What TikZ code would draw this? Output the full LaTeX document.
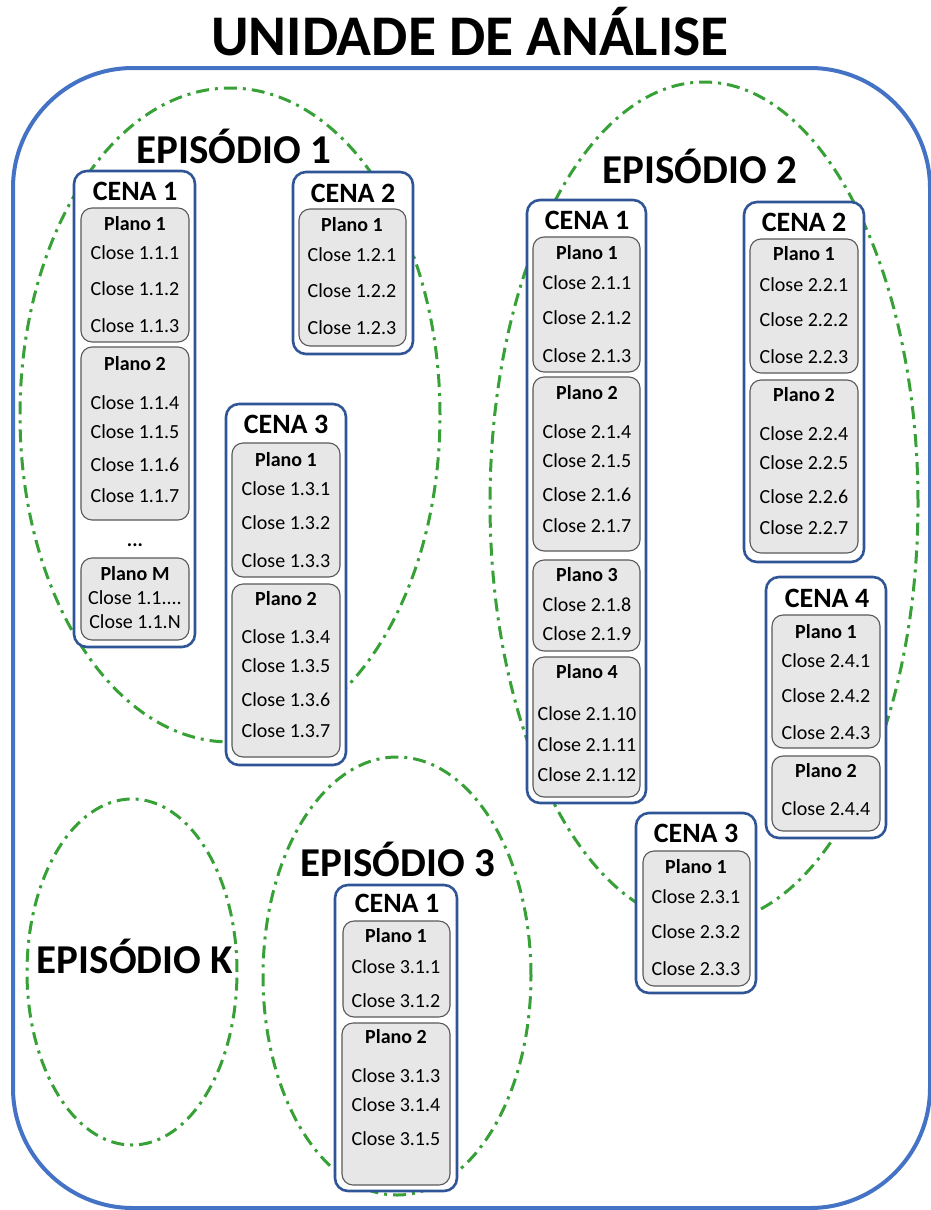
\documentclass[tikz,border=0pt]{standalone}
\usepackage{fontspec}
\setmainfont{Carlito}
\usetikzlibrary{shapes.geometric}
\definecolor{outerblue}{HTML}{4472C4}
\definecolor{cenablue}{HTML}{2F5597}
\definecolor{planofill}{HTML}{E7E7E7}
\definecolor{planoline}{HTML}{595959}
\definecolor{epgreen}{HTML}{37A037}
\tikzset{
  outerbox/.style={draw=outerblue, line width=4pt, rounded corners=120pt, inner sep=0pt, outer sep=0pt},
  cenabox/.style={draw=cenablue, line width=2.6pt, rounded corners=13pt, fill=white, inner sep=0pt, outer sep=0pt},
  planobox/.style={draw=planoline, line width=1.1pt, fill=planofill, rounded corners=11pt, inner sep=0pt, outer sep=0pt},
  epiell/.style={ellipse, draw=epgreen, line width=3pt, dash pattern=on 13pt off 6pt on 3pt off 6pt, inner sep=0pt, outer sep=0pt},
  closetxt/.style={font=\fontsize{20}{24}\selectfont, inner sep=0pt, anchor=base},
  planotxt/.style={font=\fontsize{20}{24}\selectfont\bfseries, inner sep=0pt, anchor=base},
  cenatxt/.style={font=\fontsize{28}{32}\selectfont\bfseries, inner sep=0pt, anchor=base},
  epitxt/.style={font=\fontsize{41}{46}\selectfont\bfseries, inner sep=0pt, anchor=base},
  titletxt/.style={font=\fontsize{57.5}{62}\selectfont\bfseries, inner sep=0pt, anchor=base}
}
% box from (x1,y1) to (x2,y2) in pixel coordinates
\newcommand\mkbox[6]{\node[#2, minimum width={(#5-#3)*1pt}, minimum height={(#6-#4)*1pt}] (#1) at ({(#3+#5)/2},{(#4+#6)/2}) {};}
% text centred at x with visual centre y; offset gives the baseline
\newcommand\mkclose[4]{\node[closetxt] (#1) at (#2,{#3+6.5}) {#4};}
\newcommand\mkplano[4]{\node[planotxt] (#1) at (#2,{#3+6.5}) {#4};}
\newcommand\mkcena[4]{\node[cenatxt] (#1) at (#2,{#3+9}) {#4};}
\newcommand\mkell[5]{\node[epiell, minimum width={2*#4*1pt}, minimum height={2*#5*1pt}] (#1) at (#2,#3) {};}
\begin{document}
\begin{tikzpicture}[x=1pt,y=-1pt]
\useasboundingbox (0,0) rectangle (931,1210);
\begin{scope}
\clip (0,0) rectangle (931,1210);
\mkbox{outer}{outerbox}{13}{68}{930}{1208}
\end{scope}
\node[titletxt] (title) at (470,55) {UNIDADE DE ANÁLISE};

% ellipses
\mkell{ep1}{230}{415}{210}{327}
\mkell{ep2}{704}{503}{214}{421}
\mkell{ep3}{397}{976}{134}{219}
\mkell{epk}{132}{972}{105}{173}

\node[epitxt] (ep1t) at (234,163) {EPISÓDIO 1};
\node[epitxt] (ep2t) at (700,183) {EPISÓDIO 2};
\node[epitxt] (ep3t) at (398,876) {EPISÓDIO 3};
\node[epitxt] (epkt) at (135,973) {EPISÓDIO K};

% ===== Episode 1 =====
% Cena 1
\mkbox{c11}{cenabox}{74}{171}{195}{647}
\mkcena{c11t}{135}{191}{CENA 1}
\mkbox{p111}{planobox}{81}{208}{189}{342}
\mkplano{p111t}{135}{224}{Plano 1}
\mkclose{k111}{135}{253}{Close 1.1.1}
\mkclose{k112}{135}{289}{Close 1.1.2}
\mkclose{k113}{135}{326}{Close 1.1.3}
\mkbox{p112}{planobox}{81}{347}{189}{520}
\mkplano{p112t}{135}{364}{Plano 2}
\mkclose{k114}{135}{403}{Close 1.1.4}
\mkclose{k115}{135}{432}{Close 1.1.5}
\mkclose{k116}{135}{465}{Close 1.1.6}
\mkclose{k117}{135}{496}{Close 1.1.7}
\mkplano{dots}{135}{540}{...}
\mkbox{p11m}{planobox}{81}{558}{189}{640}
\mkplano{p11mt}{135}{574}{Plano M}
\mkclose{k11x}{135}{598}{Close 1.1....}
\mkclose{k11n}{135}{622}{Close 1.1.N}
% Cena 2
\mkbox{c12}{cenabox}{293}{172}{413}{354}
\mkcena{c12t}{353}{193}{CENA 2}
\mkbox{p121}{planobox}{299}{209}{406}{346}
\mkplano{p121t}{352}{225}{Plano 1}
\mkclose{k121}{352}{255}{Close 1.2.1}
\mkclose{k122}{352}{291}{Close 1.2.2}
\mkclose{k123}{352}{328}{Close 1.2.3}
% Cena 3
\mkbox{c13}{cenabox}{226}{404}{346}{765}
\mkcena{c13t}{286}{424}{CENA 3}
\mkbox{p131}{planobox}{232}{443}{340}{577}
\mkplano{p131t}{286}{460}{Plano 1}
\mkclose{k131}{286}{489}{Close 1.3.1}
\mkclose{k132}{286}{523}{Close 1.3.2}
\mkclose{k133}{286}{561}{Close 1.3.3}
\mkbox{p132}{planobox}{232}{584}{340}{757}
\mkplano{p132t}{286}{599}{Plano 2}
\mkclose{k134}{286}{637}{Close 1.3.4}
\mkclose{k135}{286}{666}{Close 1.3.5}
\mkclose{k136}{286}{700}{Close 1.3.6}
\mkclose{k137}{286}{731}{Close 1.3.7}

% ===== Episode 2 =====
% Cena 1
\mkbox{c21}{cenabox}{527}{200}{646}{803}
\mkcena{c21t}{587}{220}{CENA 1}
\mkbox{p211}{planobox}{533}{237}{640}{372}
\mkplano{p211t}{587}{253}{Plano 1}
\mkclose{k211}{587}{283}{Close 2.1.1}
\mkclose{k212}{587}{318}{Close 2.1.2}
\mkclose{k213}{587}{356}{Close 2.1.3}
\mkbox{p212}{planobox}{533}{377}{640}{551}
\mkplano{p212t}{587}{393}{Plano 2}
\mkclose{k214}{587}{432}{Close 2.1.4}
\mkclose{k215}{587}{461}{Close 2.1.5}
\mkclose{k216}{587}{495}{Close 2.1.6}
\mkclose{k217}{587}{526}{Close 2.1.7}
\mkbox{p213}{planobox}{533}{560}{640}{651}
\mkplano{p213t}{587}{575}{Plano 3}
\mkclose{k218}{587}{605}{Close 2.1.8}
\mkclose{k219}{587}{634}{Close 2.1.9}
\mkbox{p214}{planobox}{533}{657}{640}{797}
\mkplano{p214t}{587}{672}{Plano 4}
\mkclose{k2110}{587}{714}{Close 2.1.10}
\mkclose{k2111}{587}{745}{Close 2.1.11}
\mkclose{k2112}{587}{775}{Close 2.1.12}
% Cena 2
\mkbox{c22}{cenabox}{744}{202}{864}{562}
\mkcena{c22t}{804}{222}{CENA 2}
\mkbox{p221}{planobox}{750}{239}{858}{373}
\mkplano{p221t}{804}{254}{Plano 1}
\mkclose{k221}{804}{285}{Close 2.2.1}
\mkclose{k222}{804}{320}{Close 2.2.2}
\mkclose{k223}{804}{357}{Close 2.2.3}
\mkbox{p222}{planobox}{750}{380}{858}{553}
\mkplano{p222t}{804}{395}{Plano 2}
\mkclose{k224}{804}{434}{Close 2.2.4}
\mkclose{k225}{804}{463}{Close 2.2.5}
\mkclose{k226}{804}{497}{Close 2.2.6}
\mkclose{k227}{804}{528}{Close 2.2.7}
% Cena 4
\mkbox{c24}{cenabox}{766}{577}{886}{838}
\mkcena{c24t}{827}{598}{CENA 4}
\mkbox{p241}{planobox}{772}{615}{880}{748}
\mkplano{p241t}{826}{632}{Plano 1}
\mkclose{k241}{826}{661}{Close 2.4.1}
\mkclose{k242}{826}{696}{Close 2.4.2}
\mkclose{k243}{826}{733}{Close 2.4.3}
\mkbox{p242}{planobox}{772}{756}{880}{831}
\mkplano{p242t}{826}{771}{Plano 2}
\mkclose{k244}{826}{809}{Close 2.4.4}
% Cena 3
\mkbox{c23}{cenabox}{636}{813}{756}{993}
\mkcena{c23t}{696}{833}{CENA 3}
\mkbox{p231}{planobox}{643}{851}{750}{986}
\mkplano{p231t}{696}{867}{Plano 1}
\mkclose{k231}{696}{897}{Close 2.3.1}
\mkclose{k232}{696}{932}{Close 2.3.2}
\mkclose{k233}{696}{969}{Close 2.3.3}

% ===== Episode 3 =====
\mkbox{c31}{cenabox}{335}{885}{457}{1191}
\mkcena{c31t}{397}{903}{CENA 1}
\mkbox{p311}{planobox}{343}{921}{450}{1017}
\mkplano{p311t}{396}{936}{Plano 1}
\mkclose{k311}{396}{967}{Close 3.1.1}
\mkclose{k312}{396}{1001}{Close 3.1.2}
\mkbox{p312}{planobox}{342}{1023}{450}{1185}
\mkplano{p312t}{396}{1037}{Plano 2}
\mkclose{k313}{396}{1076}{Close 3.1.3}
\mkclose{k314}{396}{1105}{Close 3.1.4}
\mkclose{k315}{396}{1139}{Close 3.1.5}
\end{tikzpicture}
\end{document}
